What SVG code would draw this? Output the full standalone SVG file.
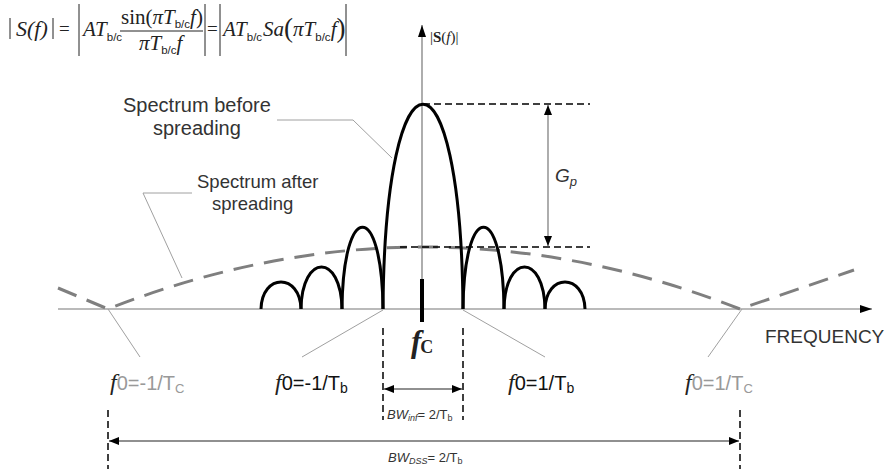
<svg xmlns="http://www.w3.org/2000/svg" width="894" height="469" viewBox="0 0 894 469">
<style>
.axis{stroke:#777;stroke-width:1.2;fill:none}
.lobe{stroke:#000;stroke-width:3;fill:none}
.spread{stroke:#7f7f7f;stroke-width:3;fill:none;stroke-dasharray:20 11}
.lead{stroke:#a0a0a0;stroke-width:1;fill:none}
.dash{stroke:#000;stroke-width:1.5;stroke-dasharray:7 4;fill:none}
.dim{stroke:#222;stroke-width:1.2;fill:none}
.bar{stroke:#222;stroke-width:1}
.lbl{font-family:"Liberation Sans",Arial,sans-serif;fill:#333}
.ser{font-family:"Liberation Serif","Times New Roman",serif;fill:#222}
.it{font-style:italic}
.up{font-style:normal}
.sub{font-family:"Liberation Sans",Arial,sans-serif;font-size:11.5px;font-style:normal}
</style>
<defs>
<marker id="ah" viewBox="0 0 10 8" refX="10" refY="4" markerWidth="10" markerHeight="8" markerUnits="userSpaceOnUse" orient="auto-start-reverse"><path d="M0,0 L10,4 L0,8 Z" fill="#000"/></marker>
<marker id="ahL" viewBox="0 0 12 8" refX="12" refY="4" markerWidth="12" markerHeight="8" markerUnits="userSpaceOnUse" orient="auto"><path d="M0,0 L12,4 L0,8 Z" fill="#000"/></marker>
</defs>

<g id="formula" class="ser">
  <line class="bar" x1="10" y1="18" x2="10" y2="39"/>
  <text x="16" y="36" font-size="22" class="it">S(f)</text>
  <line class="bar" x1="53" y1="18" x2="53" y2="39"/>
  <text x="59" y="35" font-size="19">=</text>
  <line class="bar" x1="79" y1="4" x2="79" y2="56"/>
  <text x="83" y="36" font-size="21" class="it">AT<tspan class="sub" dy="5">b/c</tspan></text>
  <text x="121" y="24" font-size="21">sin(<tspan class="it">πT</tspan><tspan class="sub" dy="4">b/c</tspan><tspan class="it" dy="-4">f</tspan>)</text>
  <line class="bar" x1="120" y1="31" x2="203" y2="31"/>
  <text x="139" y="50" font-size="21" class="it">πT<tspan class="sub" dy="4">b/c</tspan><tspan dy="-4">f</tspan></text>
  <line class="bar" x1="205" y1="4" x2="205" y2="56"/>
  <text x="207" y="35" font-size="19">=</text>
  <line class="bar" x1="220" y1="4" x2="220" y2="56"/>
  <text x="223" y="36" font-size="21" class="it">AT<tspan class="sub" dy="5">b/c</tspan><tspan dy="-5" dx="1">Sa</tspan><tspan class="up" font-size="27" dy="1">(</tspan><tspan dy="-1">πT</tspan><tspan class="sub" dy="5">b/c</tspan><tspan dy="-5">f</tspan><tspan class="up" font-size="27" dy="1">)</tspan></text>
  <line class="bar" x1="346" y1="4" x2="346" y2="56"/>
</g>

<g id="axes">
  <line class="axis" x1="58" y1="309" x2="872" y2="309" marker-end="url(#ahL)"/>
  <line class="axis" x1="422" y1="309" x2="422" y2="25" marker-end="url(#ahL)"/>
  <text x="430" y="42" class="ser" font-size="15">|<tspan font-weight="bold">S</tspan>(<tspan class="it">f</tspan>)|</text>
  <text x="765" y="343" class="lbl" font-size="19">FREQUENCY</text>
</g>

<g id="spread-spectrum">
  <path class="spread" d="M58,288 L108,309 Q424,185 740,309 L854,270"/>
</g>

<g id="narrow-spectrum">
  <path class="lobe" d="M383,309 C385,36 461,36 463,309"/>
  <path class="lobe" d="M342,309 C343,200 382,200 383,309"/>
  <path class="lobe" d="M301,309 C302,253 341,253 342,309"/>
  <path class="lobe" d="M261,309 C262,273 300,273 301,309"/>
  <path class="lobe" d="M463,309 C464,200 503,200 504,309"/>
  <path class="lobe" d="M504,309 C505,253 544,253 545,309"/>
  <path class="lobe" d="M545,309 C546,273 584,273 585,309"/>
  <line x1="422" y1="279" x2="422" y2="322" stroke="#000" stroke-width="4"/>
</g>

<g id="gain">
  <line class="dash" x1="423" y1="104" x2="590" y2="104"/>
  <line class="dash" x1="400" y1="247" x2="590" y2="247"/>
  <line x1="548" y1="105" x2="548" y2="246" stroke="#777" stroke-width="1.2" marker-start="url(#ah)" marker-end="url(#ah)"/>
  <text x="555" y="182" class="lbl it" font-size="19">G<tspan font-size="13" dy="4">p</tspan></text>
</g>

<g id="connectors">
  <polyline class="lead" points="277,120 353,120 392,158"/>
  <polyline class="lead" points="192,193 143,193 182,278"/>
  <line class="lead" x1="108" y1="309" x2="140" y2="357"/>
  <line class="lead" x1="383" y1="310" x2="302" y2="357"/>
  <line class="lead" x1="463" y1="310" x2="545" y2="357"/>
  <line class="lead" x1="742" y1="309" x2="708" y2="357"/>
</g>

<g id="label-before" class="lbl" font-size="20">
  <text x="123" y="112">Spectrum before</text>
  <text x="153" y="135">spreading</text>
</g>
<g id="label-after" class="lbl" font-size="18.5">
  <text x="197" y="188">Spectrum after</text>
  <text x="212" y="210">spreading</text>
</g>

<g id="fc">
  <text x="411" y="352" class="ser" font-size="31" font-style="italic" font-weight="bold" fill="#000">f<tspan font-size="18" font-style="normal" dx="-1" dy="1">C</tspan></text>
</g>

<g id="f0-labels">
  <text x="110" y="390" fill="#999"><tspan class="ser it" font-size="24" fill="#999">f</tspan><tspan font-family="Liberation Sans, Arial, sans-serif" font-size="20">0=-1/T<tspan font-size="13" dy="3">C</tspan></tspan></text>
  <text x="275" y="390" fill="#111"><tspan class="ser it" font-size="24" fill="#111">f</tspan><tspan font-family="Liberation Sans, Arial, sans-serif" font-size="20">0=-1/T<tspan font-size="14" dy="3">b</tspan></tspan></text>
  <text x="508" y="390" fill="#111"><tspan class="ser it" font-size="24" fill="#111">f</tspan><tspan font-family="Liberation Sans, Arial, sans-serif" font-size="20">0=1/T<tspan font-size="14" dy="3">b</tspan></tspan></text>
  <text x="685" y="390" fill="#999"><tspan class="ser it" font-size="24" fill="#999">f</tspan><tspan font-family="Liberation Sans, Arial, sans-serif" font-size="20">0=1/T<tspan font-size="13" dy="3">C</tspan></tspan></text>
</g>

<g id="bw-inf">
  <line class="dash" x1="383" y1="328" x2="383" y2="420"/>
  <line class="dash" x1="463" y1="328" x2="463" y2="420"/>
  <line class="dim" x1="384" y1="389" x2="462" y2="389" marker-start="url(#ah)" marker-end="url(#ah)"/>
  <text x="387" y="419" class="lbl" font-size="13"><tspan font-style="italic">BW<tspan font-size="9" dy="2">inf</tspan></tspan><tspan dy="-2">= 2/T</tspan><tspan font-size="9" dy="2">b</tspan></text>
</g>

<g id="bw-dss">
  <line class="dash" x1="108" y1="410" x2="108" y2="469"/>
  <line class="dash" x1="740" y1="410" x2="740" y2="469"/>
  <line class="dim" x1="109" y1="441" x2="739" y2="441" marker-start="url(#ah)" marker-end="url(#ah)"/>
  <text x="388" y="462" class="lbl" font-size="13"><tspan font-style="italic">BW<tspan font-size="9" dy="2">DSS</tspan></tspan><tspan dy="-2">= 2/T</tspan><tspan font-size="9" dy="2">b</tspan></text>
</g>
</svg>
